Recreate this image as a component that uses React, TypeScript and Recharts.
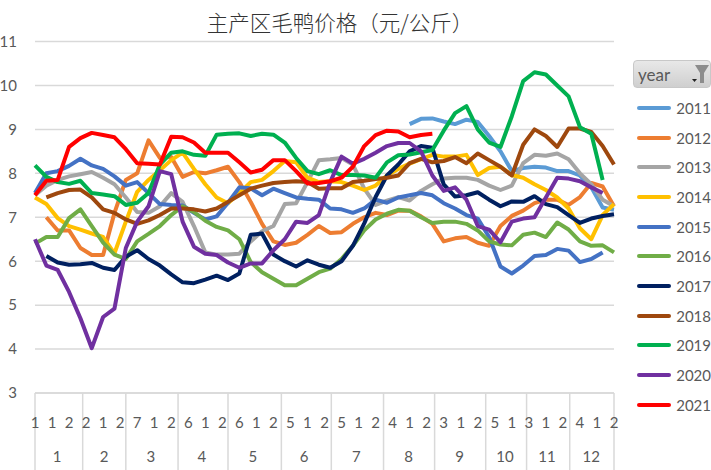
import { LineChart, Line, XAxis, YAxis, CartesianGrid, Legend } from 'recharts';

const years = ['2011', '2012', '2013', '2014', '2015', '2016', '2017', '2018', '2019', '2020', '2021'];
const colors = ['#5B9BD5', '#ED7D31', '#A5A5A5', '#FFC000', '#4472C4', '#70AD47', '#002060', '#9E480E', '#00B050', '#7030A0', '#FF0000'];

const nulls = (n: number) => Array(n).fill(null);

const v2011 = [...nulls(33), 9.12, 9.24, 9.25, 9.18, 9.12, 9.22, 9.17, 8.85, 8.5, 8.05, 8.12, 8.15, 8.13, 8.05, 8.05, 7.95, 7.68, 7.22, 7.17];
const v2012 = [null, 7.0, 6.7, 6.7, 6.3, 6.14, 6.14, 7.1, 7.85, 8.0, 8.75, 8.35, 8.37, 7.92, 8.03, 8.0, 8.07, 8.15, 7.8, 7.35, 6.85, 6.45, 6.37, 6.42, 6.6, 6.8, 6.64, 6.66, 6.85, 7.0, 7.1, 7.05, 7.15, 7.15, 7.02, 6.85, 6.45, 6.52, 6.55, 6.42, 6.35, 6.8, 7.03, 7.15, 7.32, 7.4, 7.4, 7.28, 7.46, 7.78, 7.7, 7.25];
const v2013 = [7.5, 7.72, 7.85, 7.93, 7.98, 8.03, 7.9, 7.75, 7.45, 7.12, 7.1, 7.25, 7.55, 7.35, 6.8, 6.2, 6.15, 6.15, 6.17, 6.45, 6.68, 6.8, 7.3, 7.32, 7.8, 8.3, 8.32, 8.35, 8.2, 7.65, 7.28, 7.38, 7.46, 7.38, 7.6, 7.75, 7.88, 7.9, 7.9, 7.85, 7.72, 7.62, 7.72, 8.23, 8.42, 8.4, 8.45, 8.32, 8.0, 7.75, 7.4, 7.25];
const v2014 = [7.45, 7.3, 6.98, 6.8, 6.72, 6.63, 6.55, 6.18, 6.9, 7.58, 7.85, 8.07, 8.3, 8.47, 8.1, 7.75, 7.45, 7.32, 7.55, 7.8, 7.85, 8.05, 8.28, 8.25, 7.9, 7.8, 7.82, 7.8, 7.72, 7.62, 7.72, 7.95, 8.1, 8.22, 8.32, 8.42, 8.38, 8.38, 8.42, 7.96, 8.12, 8.15, 7.96, 7.9, 7.75, 7.62, 7.45, 7.2, 6.75, 6.5, 7.05, 7.3];
const v2015 = [7.55, 8.0, 8.05, 8.17, 8.33, 8.18, 8.1, 7.93, 7.72, 7.8, 7.55, 7.3, 7.28, 7.27, 7.1, 6.95, 7.02, 7.33, 7.68, 7.66, 7.5, 7.65, 7.55, 7.45, 7.42, 7.4, 7.2, 7.18, 7.1, 7.2, 7.4, 7.33, 7.45, 7.5, 7.55, 7.5, 7.32, 7.2, 7.05, 6.97, 6.55, 5.88, 5.72, 5.9, 6.12, 6.14, 6.28, 6.24, 5.98, 6.05, 6.2, null];
const v2016 = [6.4, 6.55, 6.55, 6.98, 7.18, 6.8, 6.42, 6.15, 6.05, 6.45, 6.62, 6.8, 7.05, 7.25, 7.12, 6.92, 6.78, 6.7, 6.5, 5.98, 5.75, 5.6, 5.45, 5.45, 5.6, 5.75, 5.83, 6.05, 6.35, 6.7, 6.95, 7.08, 7.17, 7.15, 7.0, 6.87, 6.9, 6.9, 6.85, 6.7, 6.45, 6.38, 6.36, 6.6, 6.65, 6.55, 6.88, 6.72, 6.45, 6.35, 6.36, 6.2];
const v2017 = [null, 6.12, 5.97, 5.92, 5.93, 5.96, 5.85, 5.8, 6.1, 6.25, 6.05, 5.9, 5.7, 5.52, 5.5, 5.58, 5.67, 5.57, 5.72, 6.6, 6.63, 6.15, 6.0, 5.88, 6.02, 5.92, 5.85, 6.0, 6.35, 6.86, 7.46, 7.95, 8.2, 8.5, 8.62, 8.58, 7.75, 7.47, 7.5, 7.57, 7.4, 7.25, 7.36, 7.35, 7.48, 7.3, 7.23, 7.05, 6.87, 6.97, 7.03, 7.07];
const v2018 = [null, 7.45, 7.55, 7.62, 7.63, 7.45, 7.18, 7.1, 6.95, 6.85, 6.93, 7.05, 7.2, 7.2, 7.18, 7.13, 7.2, 7.35, 7.5, 7.65, 7.72, 7.78, 7.8, 7.82, 7.8, 7.65, 7.66, 7.66, 7.8, 7.83, 7.87, 7.9, 7.95, 8.23, 8.33, 8.25, 8.28, 8.37, 8.23, 8.45, 8.3, 8.15, 7.95, 8.65, 9.0, 8.85, 8.6, 9.02, 9.02, 8.94, 8.62, 8.2];
const v2019 = [8.18, 7.92, 7.8, 7.76, 7.83, 7.55, 7.52, 7.48, 7.28, 7.33, 7.55, 8.2, 8.47, 8.5, 8.42, 8.4, 8.88, 8.9, 8.91, 8.85, 8.9, 8.88, 8.7, 8.35, 8.05, 7.98, 8.07, 7.96, 7.96, 7.95, 7.9, 8.25, 8.41, 8.43, 8.48, 8.53, 8.97, 9.37, 9.53, 9.0, 8.7, 8.6, 9.3, 10.1, 10.3, 10.25, 10.0, 9.75, 9.05, 8.9, 7.85, null];
const v2020 = [6.5, 5.9, 5.8, 5.3, 4.7, 4.02, 4.73, 4.92, 6.3, 6.9, 7.25, 8.05, 7.98, 6.9, 6.33, 6.17, 6.14, 5.97, 5.85, 5.95, 5.95, 6.25, 6.5, 6.9, 6.87, 7.05, 7.8, 8.38, 8.22, 8.33, 8.47, 8.62, 8.69, 8.69, 8.5, 7.95, 7.6, 7.68, 7.4, 6.8, 6.72, 6.43, 6.9, 6.97, 7.0, 7.45, 7.9, 7.88, 7.82, 7.68, 7.55, null];
const v2021 = [7.5, 7.83, 7.85, 8.6, 8.8, 8.92, 8.87, 8.82, 8.55, 8.23, 8.22, 8.2, 8.83, 8.82, 8.7, 8.47, 8.47, 8.47, 8.25, 8.02, 8.08, 8.3, 8.3, 8.05, 7.77, 7.78, 7.82, 7.9, 8.15, 8.62, 8.87, 8.97, 8.95, 8.82, 8.87, 8.9, ...nulls(16)];

const series = [v2011, v2012, v2013, v2014, v2015, v2016, v2017, v2018, v2019, v2020, v2021];

const dayLabels = ['1', '1', '2', '2', '1', '2', '7', '1', '2', '6', '1', '2', '6', '1', '2', '5', '1', '2', '5', '1', '2', '4', '1', '2', '3', '1', '2', '5', '1', '3', '1', '2', '4', '1', '2'];
const dayTicks = dayLabels.map((_, i) => i * 1.5);
const monthLabels = ['1', '2', '3', '4', '5', '6', '7', '8', '9', '10', '11', '12'];
const monthCenters = [1.94, 6.08, 10.2, 14.7, 19.2, 23.7, 28.3, 32.9, 37.4, 41.4, 45.1, 49];
const monthEdges = [0, 4.2, 8, 12.6, 17, 21.7, 26.1, 30.7, 35.2, 39.7, 43.3, 47.1, 51];
const yTicks = [3, 4, 5, 6, 7, 8, 9, 10, 11];

const data = v2013.map((_, i) => {
  const row: Record<string, number | null> = { week: i };
  years.forEach((y, s) => {
    row[y] = series[s][i];
  });
  return row;
});

const textColor = '#595959';
const gridColor = '#d9d9d9';

function LegendBox({ payload }: any) {
  return (
    <div style={{ width: 78, fontFamily: 'Lato', fontSize: 15, color: textColor }}>
      <div
        style={{
          height: 28,
          marginBottom: 5,
          boxSizing: 'border-box',
          borderRadius: 4,
          border: '1px solid #c8c8c8',
          background: 'linear-gradient(#e8e8e8, #cfcfcf)',
          display: 'flex',
          alignItems: 'center',
          paddingLeft: 4,
          fontSize: 17,
          position: 'relative',
        }}
      >
        year
        <svg width="18" height="24" style={{ position: 'absolute', right: 0, top: 1 }}>
          <path d="M3 3 H17 L12 11 V21 H8 V11 Z" fill="#8c8c8c" />
          <path d="M0 17 H5 L2.5 20 Z" fill="#222" />
        </svg>
      </div>
      {(payload || []).map((item: any) => (
        <div key={item.value} style={{ height: 29.7, display: 'flex', alignItems: 'center' }}>
          <div style={{ width: 38, height: 4, marginLeft: 4, marginRight: 5, borderRadius: 2, background: item.color }} />
          <span>{item.value}</span>
        </div>
      ))}
    </div>
  );
}

export default function App() {
  return (
    <div style={{ position: 'absolute', left: 0, top: 0, width: 711, height: 470, background: '#fff' }}>
      <LineChart
        width={711}
        height={470}
        data={data}
        margin={{ top: 41.5, right: 19, bottom: 0, left: 0 }}
        style={{ fontFamily: 'Lato' }}
      >
        <text x={340} y={31} textAnchor="middle" fontFamily="Noto Sans CJK SC" fontSize={21.5} fontWeight={300} fill="#333333">
          主产区毛鸭价格（元/公斤）
        </text>
        <CartesianGrid vertical={false} stroke={gridColor} strokeWidth={1.5} />
        <XAxis
          xAxisId="a-edge"
          type="number"
          dataKey="week"
          domain={[0, 51]}
          ticks={monthEdges}
          interval={0}
          height={1}
          tickSize={77}
          tick={() => <g />}
          tickLine={{ stroke: gridColor, strokeWidth: 1.5 }}
          axisLine={{ stroke: gridColor, strokeWidth: 1.5 }}
        />
        <XAxis
          xAxisId="b-day"
          type="number"
          dataKey="week"
          domain={[0, 51]}
          ticks={dayTicks}
          interval={0}
          height={39}
          axisLine={false}
          tickLine={false}
          tickMargin={17}
          tickFormatter={(v: number) => dayLabels[Math.round(v / 1.5)]}
          tick={{ fill: textColor, fontSize: 15 }}
        />
        <XAxis
          xAxisId="c-month"
          type="number"
          dataKey="week"
          domain={[0, 51]}
          ticks={monthCenters}
          interval={0}
          height={37}
          axisLine={false}
          tickLine={false}
          tickMargin={12}
          tickFormatter={(v: number) => monthLabels[monthCenters.indexOf(v)]}
          tick={{ fill: textColor, fontSize: 15 }}
        />
        <YAxis
          width={35}
          domain={[3, 11]}
          ticks={yTicks}
          interval={0}
          axisLine={false}
          tickLine={false}
          tickMargin={12}
          tick={{ fill: textColor, fontSize: 15 }}
        />
        <Legend
          layout="vertical"
          align="right"
          verticalAlign="top"
          width={78}
          content={<LegendBox />}
          wrapperStyle={{ top: 60, right: 0 }}
        />
        {years.map((y, s) => (
          <Line
            key={y}
            xAxisId="b-day"
            dataKey={y}
            stroke={colors[s]}
            strokeWidth={4}
            strokeLinejoin="round"
            dot={false}
            activeDot={false}
            isAnimationActive={false}
          />
        ))}
      </LineChart>
    </div>
  );
}
